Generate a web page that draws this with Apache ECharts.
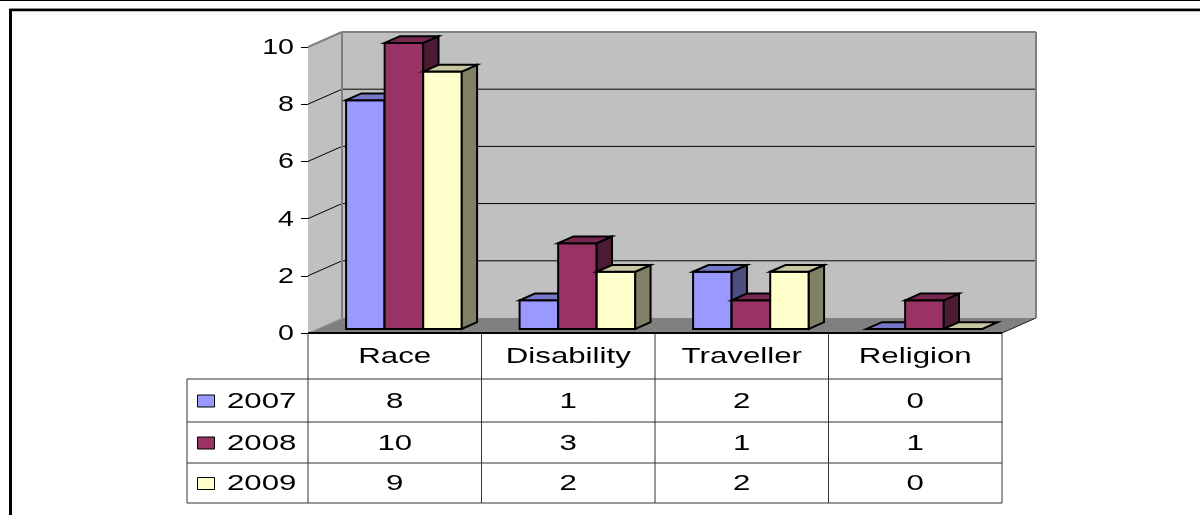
<!DOCTYPE html>
<html>
<head>
<meta charset="utf-8">
<script src="https://cdn.jsdelivr.net/npm/echarts@6/dist/echarts.min.js"></script>
<style>
  html, body { margin: 0; padding: 0; background: #ffffff; }
  #chart { width: 1200px; height: 515px; }
</style>
</head>
<body>
<div id="chart"></div>
<script>
// ---- data ----
const categories = ['Race', 'Disability', 'Traveller', 'Religion'];
const years = ['2007', '2008', '2009'];
const values2007 = [8, 1, 2, 0];
const values2008 = [10, 3, 1, 1];
const values2009 = [9, 2, 2, 0];
const yTicks = [0, 2, 4, 6, 8, 10];

// ---- styling ----
const seriesValues = [values2007, values2008, values2009];
const colors = ['#9999FF', '#993366', '#FFFFCC'];
const FONT = "'Liberation Sans', Arial, sans-serif";
const TEXT_STRETCH = 1.42;      // wide lettering of the table text
const DX = 34, DY = 15;         // 3D depth offset of the back wall
const BAR_D0 = 0.27, BAR_D = 0.45; // bar depth position / thickness (fraction of wall depth)
const Y_MAX = yTicks[yTicks.length - 1];
const ROW_EDGES = [0, 46, 89, 130, 170];   // table row boundaries below the floor front edge
const LEGEND_W = 121;

function shade(hex, k) {
  const n = parseInt(hex.slice(1), 16);
  const r = Math.round(((n >> 16) & 255) * k);
  const g = Math.round(((n >> 8) & 255) * k);
  const b = Math.round((n & 255) * k);
  return 'rgb(' + r + ',' + g + ',' + b + ')';
}

function line(x1, y1, x2, y2, stroke, w) {
  return { type: 'line', shape: { x1: x1, y1: y1, x2: x2, y2: y2 },
           style: { stroke: stroke, lineWidth: w || 1 } };
}

function label(text, x, y, align, stretch) {
  return {
    type: 'text', x: x, y: y, scaleX: stretch || TEXT_STRETCH,
    style: { text: text, x: 0, y: 0, fill: '#000', fontSize: 22, fontFamily: FONT,
             align: align || 'center', verticalAlign: 'middle' }
  };
}

// Walls, floor and gridlines of the 3D plot area
function renderWalls(params, api) {
  const cs = params.coordSys;
  const L = cs.x, R = cs.x + cs.width;
  const yb = api.coord([0, 0])[1];
  const yt = api.coord([0, Y_MAX])[1];
  const ch = [];
  ch.push({ type: 'polygon', shape: { points: [[L, yb], [L + DX, yb - DY], [R + DX, yb - DY], [R, yb]] },
            style: { fill: '#808080' } });
  ch.push({ type: 'polygon', shape: { points: [[L, yb], [L, yt], [L + DX, yt - DY], [L + DX, yb - DY]] },
            style: { fill: '#C0C0C0' } });
  ch.push({ type: 'rect', shape: { x: L + DX, y: yt - DY, width: R - L, height: yb - yt },
            style: { fill: '#C0C0C0' } });
  yTicks.forEach(function (v) {
    if (v === 0 || v === Y_MAX) return;
    const y = api.coord([0, v])[1];
    ch.push(line(L, y, L + DX, y - DY, '#000', 1));
    ch.push(line(L + DX, y - DY, R + DX, y - DY, '#000', 1));
  });
  // wall edges
  ch.push(line(L, yt, L + DX, yt - DY, '#808080', 2));
  ch.push(line(L + DX, yt - DY, R + DX, yt - DY, '#808080', 2));
  ch.push(line(R + DX, yt - DY, R + DX, yb - DY, '#808080', 2));
  ch.push(line(L + DX, yt - DY, L + DX, yb - DY, '#808080', 2));
  ch.push(line(L, yb, L + DX, yb - DY, '#a0a0a0', 1));
  ch.push(line(R, yb, R + DX, yb - DY, '#202020', 1));
  ch.push(line(L, yb, R, yb, '#000', 2));
  return { type: 'group', children: ch };
}

// One 3D column per data item
function makeBarRenderer(idx) {
  return function (params, api) {
    const cat = api.value(0), v = api.value(1);
    const top = api.coord([cat, v]);
    const base = api.coord([cat, 0]);
    const band = api.size([1, 0])[0];
    const bw = band / 4.5;
    const ox = BAR_D0 * DX, oy = BAR_D0 * DY;
    const bx = BAR_D * DX, by = BAR_D * DY;
    const x0 = top[0] + (idx - 1.5) * bw + ox, x1 = x0 + bw;
    const yT = top[1] - oy, yB = base[1] - oy;
    const col = colors[idx];
    const st = { stroke: '#000', lineWidth: 2, lineJoin: 'miter' };
    const ch = [];
    if (yB - yT > 0.5) {
      ch.push({ type: 'polygon', shape: { points: [[x0, yT], [x1, yT], [x1, yB], [x0, yB]] },
                style: Object.assign({ fill: col }, st) });
      ch.push({ type: 'polygon', shape: { points: [[x1, yT], [x1 + bx, yT - by], [x1 + bx, yB - by], [x1, yB]] },
                style: Object.assign({ fill: shade(col, 0.5) }, st) });
    }
    ch.push({ type: 'polygon', shape: { points: [[x0, yT], [x0 + bx, yT - by], [x1 + bx, yT - by], [x1, yT]] },
              style: Object.assign({ fill: shade(col, 0.78) }, st) });
    return { type: 'group', children: ch };
  };
}

// Data table under the plot: header row, one row per year
function renderTable(params, api) {
  const cs = params.coordSys;
  const L = cs.x, R = cs.x + cs.width;
  const i = api.value(0);
  const yb = api.coord([0, 0])[1];
  const cx = api.coord([i, 0])[0];
  const band = api.size([1, 0])[0];
  const ch = [];
  const mid = function (r) { return yb + (ROW_EDGES[r] + ROW_EDGES[r + 1]) / 2; };
  ch.push(label(categories[i], cx, mid(0) + 1));
  seriesValues.forEach(function (vals, s) {
    ch.push(label(String(vals[i]), cx, mid(s + 1) + 1));
  });
  ch.push(line(cx + band / 2, yb, cx + band / 2, yb + ROW_EDGES[4], '#333', 1));
  if (i === 0) {
    const lx = L - LEGEND_W;
    ch.push(line(L, yb, L, yb + ROW_EDGES[4], '#333', 1));
    ch.push(line(lx, yb + ROW_EDGES[1], lx, yb + ROW_EDGES[4], '#333', 1));
    for (let r = 1; r <= 4; r++) {
      ch.push(line(lx, yb + ROW_EDGES[r], R, yb + ROW_EDGES[r], '#333', 1));
    }
    years.forEach(function (yr, s) {
      const ym = mid(s + 1);
      ch.push({ type: 'rect', shape: { x: lx + 10.5, y: ym - 5.5, width: 17, height: 12 },
                style: { fill: colors[s], stroke: '#000', lineWidth: 1 } });
      ch.push(label(yr, lx + 40, ym + 1, 'left'));
    });
  }
  return { type: 'group', children: ch };
}

// Value axis labels
function renderYLabels(params, api) {
  const y = api.coord([0, api.value(1)])[1];
  return label(String(api.value(1)), params.coordSys.x - 14, y + 1, 'right', 1.3);
}

const chart = echarts.init(document.getElementById('chart'), null, { renderer: 'canvas' });

const barSeries = seriesValues.map(function (vals, s) {
  return {
    type: 'custom', name: years[s], z: 3,
    renderItem: makeBarRenderer(s),
    encode: { x: 0, y: 1 },
    data: vals.map(function (v, i) { return [i, v]; })
  };
});

chart.setOption({
  animation: false,
  backgroundColor: '#ffffff',
  grid: { left: 308, top: 47, width: 694, height: 286 },
  xAxis: {
    type: 'category', data: categories, boundaryGap: true,
    axisLine: { show: false }, axisTick: { show: false }, axisLabel: { show: false },
    splitLine: { show: false }
  },
  yAxis: {
    type: 'value', min: 0, max: Y_MAX, interval: 2,
    axisLine: { show: true, lineStyle: { color: '#000', width: 1 } },
    axisTick: { show: true, length: 7, lineStyle: { color: '#000' } },
    axisLabel: { show: false },
    splitLine: { show: false }
  },
  graphic: [
    { type: 'line', shape: { x1: 0, y1: 0.5, x2: 1200, y2: 0.5 }, style: { stroke: '#000', lineWidth: 1 } },
    { type: 'line', shape: { x1: 10, y1: 8.5, x2: 1200, y2: 8.5 }, style: { stroke: '#bbb', lineWidth: 1 } },
    { type: 'line', shape: { x1: 9, y1: 10, x2: 1200, y2: 10 }, style: { stroke: '#000', lineWidth: 2.5 } },
    { type: 'line', shape: { x1: 10.5, y1: 9, x2: 10.5, y2: 515 }, style: { stroke: '#000', lineWidth: 3 } }
  ],
  series: [
    { type: 'custom', z: 1, renderItem: renderWalls, encode: { x: 0, y: 1 }, data: [[0, 0]] },
    { type: 'custom', z: 2, renderItem: renderYLabels, encode: { x: 0, y: 1 },
      data: yTicks.map(function (v) { return [0, v]; }) }
  ].concat(barSeries).concat([
    { type: 'custom', z: 4, renderItem: renderTable, encode: { x: 0 },
      data: categories.map(function (c, i) { return [i, 0]; }) }
  ])
});
</script>
</body>
</html>
